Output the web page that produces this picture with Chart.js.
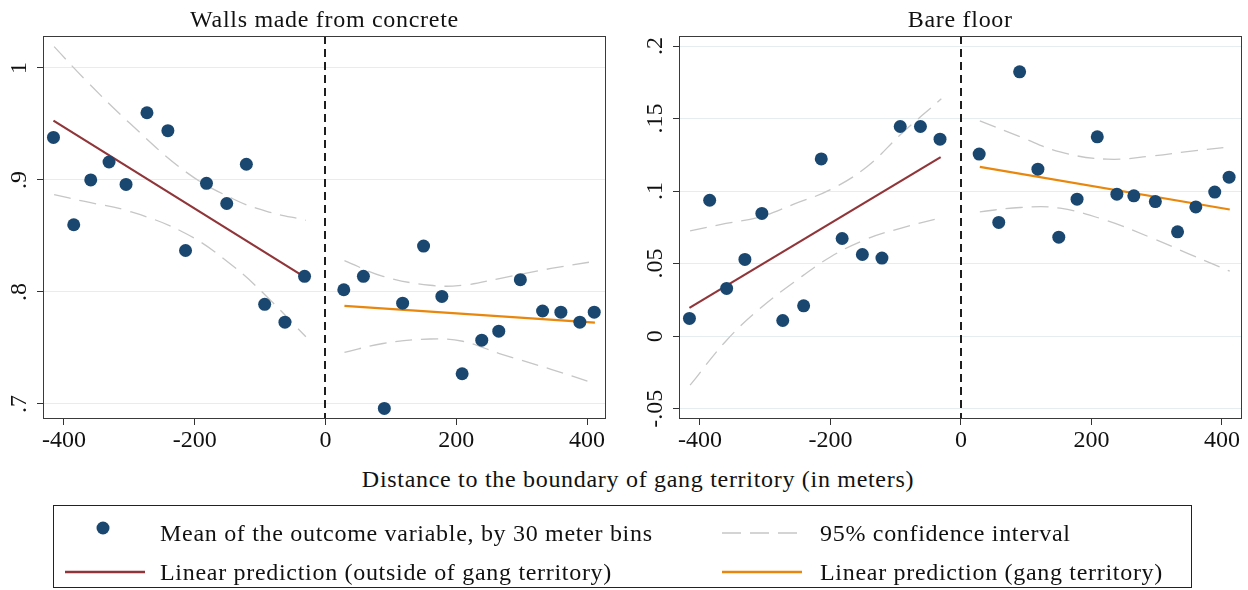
<!DOCTYPE html>
<html>
<head>
<meta charset="utf-8">
<script src="https://cdn.jsdelivr.net/npm/chart.js@4.4.1/dist/chart.umd.min.js"></script>
<style>
  html, body { margin: 0; padding: 0; background: #fff; }
  body { width: 1248px; height: 590px; position: relative; overflow: hidden;
         font-family: "Liberation Serif", serif; color: #111; }
  .panel { position: absolute; top: 0; height: 460px; }
  #wallsBox { left: 0; width: 620px; }
  #floorBox { left: 620px; width: 628px; }
  .txt { position: absolute; font-size: 24px; line-height: 28px; white-space: nowrap;
         letter-spacing: 0.7px; }
  #xTitle { left: 238px; width: 800px; top: 465px; text-align: center; }
  #legendBox { position: absolute; left: 53px; top: 505px; width: 1139px; height: 83px;
               box-sizing: border-box; border: 1px solid #222; }
  .sym { position: absolute; }
</style>
</head>
<body>
<div class="panel" id="wallsBox"><canvas id="wallsChart" width="620" height="460"></canvas></div>
<div class="panel" id="floorBox"><canvas id="floorChart" width="628" height="460"></canvas></div>

<div class="txt" id="xTitle">Distance to the boundary of gang territory (in meters)</div>

<div id="legendBox"></div>
<svg class="sym" style="left:0;top:0" width="1248" height="590">
  <circle cx="103" cy="528" r="6.5" fill="#1a476f"></circle>
  <line x1="65" y1="572" x2="145" y2="572" stroke="#903539" stroke-width="2.5"></line>
  <line x1="722" y1="533" x2="802" y2="533" stroke="#c6c6c6" stroke-width="1.5" stroke-dasharray="19 9"></line>
  <line x1="722" y1="572" x2="802" y2="572" stroke="#e9870c" stroke-width="2.5"></line>
</svg>
<div class="txt" style="left:160px;top:519px">Mean of the outcome variable, by 30 meter bins</div>
<div class="txt" style="left:160px;top:558px">Linear prediction (outside of gang territory)</div>
<div class="txt" style="left:820px;top:519px">95% confidence interval</div>
<div class="txt" style="left:820px;top:558px">Linear prediction (gang territory)</div>

<script>
// --- DATA ---
const binX = [-416, -385, -359, -331, -305, -273, -241, -214, -182, -151, -121, -93, -62, -32,
              28, 58, 90, 118, 150, 178, 209, 239, 265, 298, 332, 360, 389, 411];
const wallsMean = [0.938, 0.860, 0.900, 0.916, 0.896, 0.960, 0.944, 0.837, 0.897, 0.879, 0.914, 0.789, 0.773, 0.814,
                   0.802, 0.814, 0.696, 0.790, 0.841, 0.796, 0.727, 0.757, 0.765, 0.811, 0.783, 0.782, 0.773, 0.782];
const floorMean = [0.0122, 0.0937, 0.0329, 0.0529, 0.0846, 0.0108, 0.0209, 0.1222, 0.0673, 0.0563, 0.0538, 0.1445, 0.1445, 0.1358,
                   0.1255, 0.0784, 0.1822, 0.1151, 0.0682, 0.0944, 0.1374, 0.0979, 0.0967, 0.0928, 0.0719, 0.0891, 0.0993, 0.1096];

// linear predictions (end points)
const fitOutX = [-416, -31];
const fitInX = [29, 412];
const wallsFitOut = [0.953, 0.813];
const wallsFitIn = [0.7875, 0.7726];
const floorFitOut = [0.0195, 0.1234];
const floorFitIn = [0.1167, 0.0873];

// 95% confidence bands
const wallsCiOutX = [-415, -370, -300, -213, -141, -90, -30];
const wallsCiOutHi = [1.019, 0.991, 0.951, 0.907, 0.883, 0.872, 0.864];
const wallsCiOutLo = [0.887, 0.881, 0.872, 0.852, 0.823, 0.796, 0.760];
const wallsCiInX = [29, 88, 160, 210, 266, 345, 408];
const wallsCiInHi = [0.828, 0.814, 0.806, 0.806, 0.812, 0.821, 0.827];
const wallsCiInLo = [0.746, 0.754, 0.758, 0.756, 0.745, 0.731, 0.719];

const floorCiOutX = [-415, -360, -307, -256, -200, -144, -90, -30];
const floorCiOutHi = [0.0726, 0.0777, 0.0822, 0.0910, 0.1010, 0.1168, 0.1400, 0.1636];
const floorCiOutLo = [-0.0338, -0.0033, 0.0194, 0.0371, 0.0546, 0.0670, 0.0747, 0.0816];
const floorCiInX = [29, 91, 152, 224, 295, 350, 412];
const floorCiInHi = [0.1484, 0.1374, 0.1270, 0.1220, 0.1243, 0.1274, 0.1305];
const floorCiInLo = [0.0857, 0.0887, 0.0882, 0.0796, 0.0672, 0.0566, 0.0448];

// ticks
const xTicks = [-400, -200, 0, 200, 400];
const wallsTicks = [0.7, 0.8, 0.9, 1];
const wallsTickLabels = ['.7', '.8', '.9', '1'];
const floorTicks = [-0.05, 0, 0.05, 0.1, 0.15, 0.2];
const floorTickLabels = ['-.05', '0', '.05', '.1', '.15', '.2'];

// --- STYLE ---
const NAVY = '#1a476f';
const MAROON = '#903539';
const ORANGE = '#e9870c';
const CI_GRAY = '#c6c6c6';
const FONT = 'Liberation Serif';

const zip = (xs, ys) => xs.map((x, i) => ({ x: x, y: ys[i] }));

// draws the frame, the dashed boundary line, rotated y labels and the panel title
const panelDecor = {
    id: 'panelDecor',
    beforeDatasetsDraw(chart, args, opts) {
        const { ctx, chartArea: a, scales: { x } } = chart;
        const x0 = Math.round(x.getPixelForValue(0));
        ctx.save();
        ctx.strokeStyle = '#1e1e1e';
        ctx.lineWidth = 2;
        ctx.setLineDash([8, 5]);
        ctx.beginPath();
        ctx.moveTo(x0, a.top);
        ctx.lineTo(x0, a.bottom);
        ctx.stroke();
        ctx.restore();
    },
    afterDraw(chart, args, opts) {
        const { ctx, chartArea: a, scales: { y } } = chart;
        ctx.save();
        ctx.strokeStyle = '#3a3a3a';
        ctx.lineWidth = 1;
        ctx.strokeRect(Math.round(a.left) + 0.5, Math.round(a.top) + 0.5,
                       Math.round(a.width) - 1, Math.round(a.height) - 1);

        ctx.fillStyle = '#111';
        ctx.font = '24px "' + FONT + '"';
        ctx.textAlign = 'center';
        ctx.textBaseline = 'middle';
        opts.tickValues.forEach((v, i) => {
            ctx.save();
            ctx.translate(a.left - 23, y.getPixelForValue(v));
            ctx.rotate(-Math.PI / 2);
            ctx.fillText(opts.tickLabels[i], 0, 0);
            ctx.restore();
        });

        ctx.textBaseline = 'alphabetic';
        ctx.letterSpacing = '0.7px';
        ctx.fillText(opts.title, (a.left + a.right) / 2, 27);
        ctx.restore();
    }
};

function makePanel(canvasId, cfg) {
    const lineDs = (data, color, width, dashed) => ({
        type: 'scatter',
        data: data,
        showLine: true,
        borderColor: color,
        borderWidth: width,
        borderDash: dashed ? [17, 9] : [],
        tension: dashed ? 0.4 : 0,
        pointRadius: 0,
        fill: false
    });

    const datasets = [
        {
            data: zip(binX, cfg.mean),
            pointRadius: 6.5,
            pointBackgroundColor: NAVY,
            pointBorderWidth: 0,
            showLine: false
        },
        lineDs(zip(fitOutX, cfg.fitOut), MAROON, 2.2, false),
        lineDs(zip(fitInX, cfg.fitIn), ORANGE, 2.2, false),
        lineDs(zip(cfg.ciOutX, cfg.ciOutHi), CI_GRAY, 1.3, true),
        lineDs(zip(cfg.ciOutX, cfg.ciOutLo), CI_GRAY, 1.3, true),
        lineDs(zip(cfg.ciInX, cfg.ciInHi), CI_GRAY, 1.3, true),
        lineDs(zip(cfg.ciInX, cfg.ciInLo), CI_GRAY, 1.3, true)
    ];

    return new Chart(document.getElementById(canvasId), {
        type: 'scatter',
        data: { datasets: datasets },
        options: {
            responsive: false,
            animation: false,
            devicePixelRatio: 1,
            layout: { padding: { top: 36, right: cfg.padRight, left: 0, bottom: 0 } },
            plugins: {
                legend: { display: false },
                tooltip: { enabled: false },
                panelDecor: { title: cfg.title, tickValues: cfg.yTicks, tickLabels: cfg.yTickLabels }
            },
            scales: {
                x: {
                    type: 'linear',
                    min: cfg.xMin,
                    max: cfg.xMax,
                    afterBuildTicks: s => { s.ticks = xTicks.map(v => ({ value: v })); },
                    afterFit: s => { s.height = 41; },
                    border: { display: false },
                    grid: { drawOnChartArea: false, drawTicks: true, tickLength: 6, tickColor: '#333' },
                    ticks: {
                        color: '#111',
                        font: { family: FONT, size: 24 },
                        padding: 1,
                        maxRotation: 0,
                        autoSkip: false,
                        callback: v => String(v)
                    }
                },
                y: {
                    type: 'linear',
                    min: cfg.yMin,
                    max: cfg.yMax,
                    afterBuildTicks: s => { s.ticks = cfg.yTicks.map(v => ({ value: v })); },
                    afterFit: s => { s.width = cfg.yWidth; },
                    border: { display: false },
                    grid: { color: '#e5edf0', lineWidth: 1, drawTicks: true, tickLength: 6, tickColor: '#333' },
                    ticks: { display: false }
                }
            }
        },
        plugins: [panelDecor]
    });
}

makePanel('wallsChart', {
    title: 'Walls made from concrete',
    mean: wallsMean, fitOut: wallsFitOut, fitIn: wallsFitIn,
    ciOutX: wallsCiOutX, ciOutHi: wallsCiOutHi, ciOutLo: wallsCiOutLo,
    ciInX: wallsCiInX, ciInHi: wallsCiInHi, ciInLo: wallsCiInLo,
    yTicks: wallsTicks, yTickLabels: wallsTickLabels,
    xMin: -432, xMax: 429, yMin: 0.6866, yMax: 1.0285,
    yWidth: 43, padRight: 14
});

makePanel('floorChart', {
    title: 'Bare floor',
    mean: floorMean, fitOut: floorFitOut, fitIn: floorFitIn,
    ciOutX: floorCiOutX, ciOutHi: floorCiOutHi, ciOutLo: floorCiOutLo,
    ciInX: floorCiInX, ciInHi: floorCiInHi, ciInLo: floorCiInLo,
    yTicks: floorTicks, yTickLabels: floorTickLabels,
    xMin: -432, xMax: 430, yMin: -0.0571, yMax: 0.2069,
    yWidth: 59, padRight: 6
});
</script>
</body>
</html>
